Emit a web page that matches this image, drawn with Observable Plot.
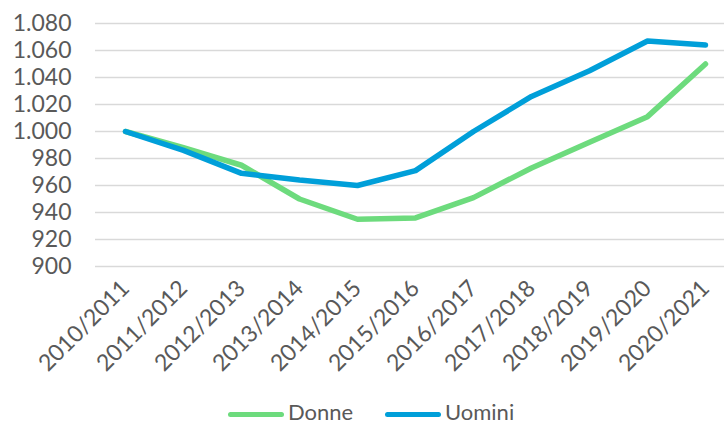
<!DOCTYPE html>
<html>
<head>
<meta charset="utf-8">
<script src="https://cdn.jsdelivr.net/npm/d3@7"></script>
<script src="https://cdn.jsdelivr.net/npm/@observablehq/plot@0.6"></script>
<style>
  html, body { margin: 0; padding: 0; background: #fff; overflow: hidden; }
  body { width: 724px; height: 427px; position: relative; font-family: Lato, sans-serif; }
  #legend { position: absolute; left: 0; top: 401px; width: 724px; height: 23px; font-family: Lato, sans-serif; font-size: 22px; line-height: 1; color: #595959; }
  .item { position: absolute; top: 0; height: 22px; display: flex; align-items: center; }
  .sw { width: 56px; height: 5px; border-radius: 3px; margin-right: 4px; margin-top: 4px; }
</style>
</head>
<body>
<div id="chart"></div>
<div id="legend"></div>
<script>
const categories = ["2010/2011","2011/2012","2012/2013","2013/2014","2014/2015","2015/2016","2016/2017","2017/2018","2018/2019","2019/2020","2020/2021"];
const donne  = [1000, 988, 975, 950, 935, 936, 951, 973, 992, 1011, 1050];
const uomini = [1000, 986, 969, 964, 960, 971, 1000, 1026, 1045, 1067, 1064];
const yTicks = [900, 920, 940, 960, 980, 1000, 1020, 1040, 1060, 1080];
const seriesNames = ["Donne", "Uomini"];
const seriesColors = ["#6ddb7d", "#009fd9"];

const rows = [];
categories.forEach((c, i) => {
  rows.push({anno: c, valore: donne[i], serie: seriesNames[0]});
  rows.push({anno: c, valore: uomini[i], serie: seriesNames[1]});
});

const fmt = d3.formatLocale({decimal: ",", thousands: ".", grouping: [3], currency: ["", "€"]}).format(",");

const chart = Plot.plot({
  width: 724,
  height: 400,
  marginLeft: 123,
  marginRight: 17,
  marginTop: 23,
  marginBottom: 134,
  style: {fontFamily: "Lato, sans-serif", fontSize: "23px", color: "#595959", background: "#fff", overflow: "visible"},
  x: {type: "point", domain: categories, padding: 0, label: null},
  y: {domain: [900, 1080], label: null},
  color: {domain: seriesNames, range: seriesColors},
  marks: [
    Plot.ruleY(yTicks, {stroke: "#d9d9d9", strokeWidth: 1.3, insetLeft: -28, insetRight: -17}),
    Plot.axisY({ticks: yTicks, tickSize: 0, tickPadding: 52, tickFormat: fmt, fill: "#595959", label: null}),
    Plot.axisX({tickSize: 0, tickRotate: -45, tickPadding: 18, fill: "#595959", label: null}),
    Plot.line(rows, {x: "anno", y: "valore", stroke: "serie", z: "serie", strokeWidth: 5.5, strokeLinecap: "round", strokeLinejoin: "round"})
  ]
});
document.getElementById("chart").appendChild(chart);

const legend = document.getElementById("legend");
const lefts = [228, 385];
seriesNames.forEach((n, i) => {
  const it = document.createElement("div");
  it.className = "item";
  it.style.left = lefts[i] + "px";
  const sw = document.createElement("div");
  sw.className = "sw";
  sw.style.background = seriesColors[i];
  const t = document.createElement("span");
  t.textContent = n;
  it.appendChild(sw);
  it.appendChild(t);
  legend.appendChild(it);
});
</script>
</body>
</html>
